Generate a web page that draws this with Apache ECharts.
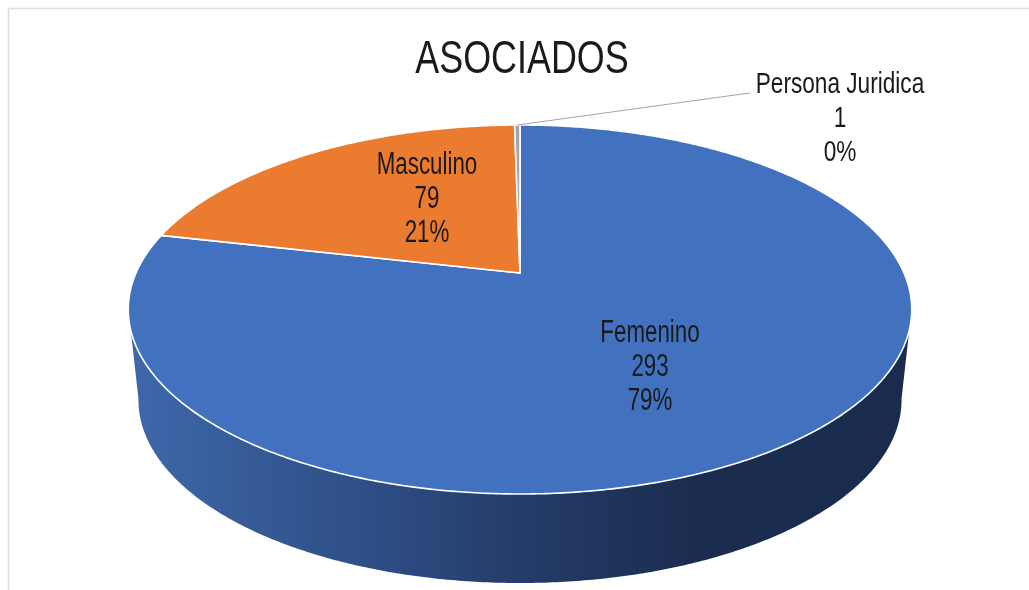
<!DOCTYPE html>
<html>
<head>
<meta charset="utf-8">
<style>
html,body{margin:0;padding:0;background:#fff;}
#chart{width:1029px;height:590px;filter:blur(0.6px);}
</style>
<script src="https://cdn.jsdelivr.net/npm/echarts@6/dist/echarts.min.js"></script>
</head>
<body>
<div id="chart"></div>
<script>
const titleText = 'ASOCIADOS';
const categories = ['Femenino', 'Masculino', 'Persona Juridica'];
const values = [293, 79, 1];

const sliceColors = ['#4271c0', '#ea7b2f', '#a5a5a5'];
const labelCenters = [[650, 367], [427, 199], [840, 119]];
const labelStyles = [
  {size: 31, scaleX: 0.72, lineHeight: 34},
  {size: 31, scaleX: 0.72, lineHeight: 34},
  {size: 29, scaleX: 0.78, lineHeight: 34}
];
const leaderEnd = [[735, 95], [750, 93]];

// Perspective projection of the pie disc onto the page
const CX = 520, TOP = 125, BOTTOM = 494, APEX = 273, K = 384;
const persp = (APEX * 2 - TOP - BOTTOM) / (TOP - BOTTOM);
const a = TOP * (1 + persp) - APEX;
function rim(deg) {
  const t = deg * Math.PI / 180, sx = Math.sin(t), sy = Math.cos(t);
  const d = persp * sy + 1;
  return [CX + K * sx / d, (a * sy + APEX) / d];
}
const BASE_SCALE = 0.974, BASE_DROP = 90.5, MID_Y = 309.5;
function baseRim(deg) {
  const p = rim(deg);
  return [CX + (p[0] - CX) * BASE_SCALE, MID_Y + (p[1] - MID_Y) * 0.992 + BASE_DROP];
}
const total = values.reduce((s, v) => s + v, 0);
function range(i) {
  let s = 0;
  for (let j = 0; j < i; j++) s += values[j];
  return [s / total * 360, (s + values[i]) / total * 360];
}
function arc(fn, from, to) {
  const pts = [], n = Math.max(2, Math.ceil(Math.abs(to - from) / 0.5));
  for (let i = 0; i <= n; i++) pts.push(fn(from + (to - from) * i / n));
  return pts;
}
const FRONT = [101, 259];
const wallGradient = {
  type: 'linear', global: true, x: 130, y: 0, x2: 912, y2: 0,
  colorStops: [
    {offset: 0, color: '#3f67ab'},
    {offset: 0.09, color: '#39609f'},
    {offset: 0.22, color: '#33558f'},
    {offset: 0.35, color: '#2c4a80'},
    {offset: 0.5, color: '#243c69'},
    {offset: 0.73, color: '#1b2c4e'},
    {offset: 1, color: '#1a2c4e'}
  ]
};

function renderWall(params, api) {
  const r = range(params.dataIndex);
  const from = Math.max(r[0], FRONT[0]), to = Math.min(r[1], FRONT[1]);
  if (to <= from) return null;
  const pts = arc(rim, from, to).concat(arc(baseRim, to, from));
  return {type: 'polygon', shape: {points: pts}, style: {fill: wallGradient}};
}
function renderSlice(params, api) {
  const i = params.dataIndex, r = range(i);
  const pts = [[CX, APEX]].concat(arc(rim, r[0], r[1]));
  const children = [{
    type: 'polygon', z2: 1, shape: {points: pts},
    style: {fill: sliceColors[i], stroke: '#ffffff', lineWidth: 1.6, lineJoin: 'round'}
  }];
  if (i === 2) {
    const m = rim((r[0] + r[1]) / 2);
    children.push({
      type: 'polyline', z2: 2,
      shape: {points: [m].concat(leaderEnd)},
      style: {fill: null, stroke: '#a6a6a6', lineWidth: 1.2}
    });
  }
  return {type: 'group', children};
}
function renderLabel(params, api) {
  const i = params.dataIndex, ls = labelStyles[i], v = api.value(0);
  return {
    type: 'text', x: labelCenters[i][0], y: labelCenters[i][1], scaleX: ls.scaleX,
    style: {
      text: categories[i] + '\n' + v + '\n' + Math.round(v / total * 100) + '%',
      font: ls.size + 'px "Liberation Sans", Arial, sans-serif',
      lineHeight: ls.lineHeight, align: 'center', verticalAlign: 'middle', fill: '#1a1a1a'
    }
  };
}
const chart = echarts.init(document.getElementById('chart'), null, {renderer: 'canvas'});
chart.setOption({
  animation: false,
  backgroundColor: '#ffffff',
  graphic: [
    {type: 'line', shape: {x1: 8.5, y1: 8.5, x2: 1029, y2: 8.5}, style: {stroke: '#dedede', lineWidth: 1.5}},
    {type: 'line', shape: {x1: 8.5, y1: 8.5, x2: 8.5, y2: 590}, style: {stroke: '#dedede', lineWidth: 1.5}},
    {type: 'text', x: 522, y: 60, scaleX: 0.78, style: {
      text: titleText, font: '46px "Liberation Sans", Arial, sans-serif',
      align: 'center', verticalAlign: 'middle', fill: '#1a1a1a'
    }}
  ],
  series: [
    {type: 'custom', coordinateSystem: 'none', silent: true, z: 1, renderItem: renderWall, data: values.map(v => [v])},
    {type: 'custom', coordinateSystem: 'none', silent: true, z: 2, renderItem: renderSlice, data: values.map(v => [v])},
    {type: 'custom', coordinateSystem: 'none', silent: true, z: 3, renderItem: renderLabel, data: values.map(v => [v])}
  ]
});
</script>
</body>
</html>
